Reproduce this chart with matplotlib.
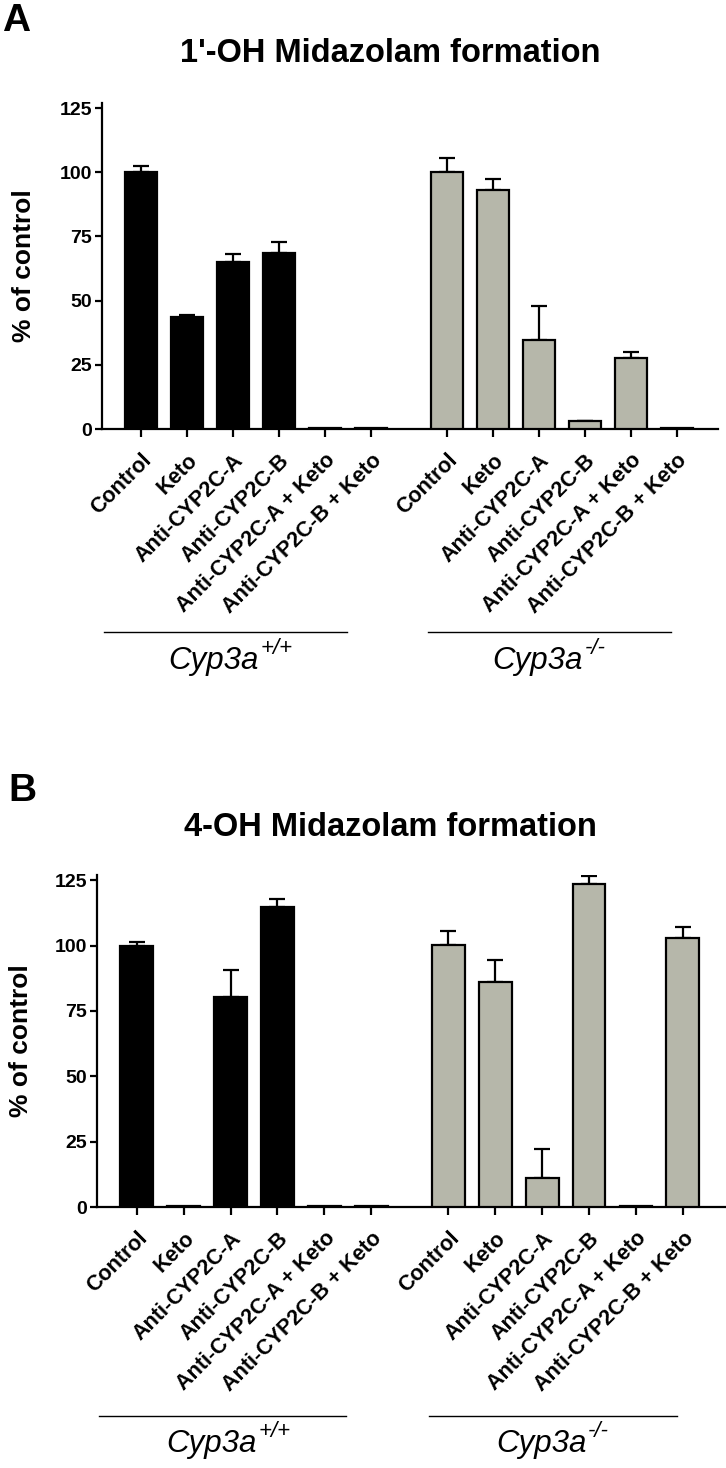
import numpy as np
import matplotlib
matplotlib.use('Agg')
import matplotlib.pyplot as plt
from matplotlib.transforms import blended_transform_factory

plt.rcParams['font.family'] = ['Liberation Sans', 'DejaVu Sans']

# ---------------- data ----------------
treatments = ['Control', 'Keto', 'Anti-CYP2C-A', 'Anti-CYP2C-B',
              'Anti-CYP2C-A + Keto', 'Anti-CYP2C-B + Keto']
genotype_names = ['Cyp3a', 'Cyp3a']
genotype_sups = ['+/+', '-/-']
titles = ["1'-OH Midazolam formation", "4-OH Midazolam formation"]
panel_letters = ['A', 'B']
yticks = [0, 25, 50, 75, 100, 125]

a_wt_mean = [100.0, 43.5, 65.0, 68.7, 0.5, 0.5]
a_wt_err = [2.3, 0.9, 3.1, 4.1, 0.0, 0.0]
a_ko_mean = [100.0, 93.0, 34.5, 3.0, 27.6, 0.5]
a_ko_err = [5.4, 4.3, 13.6, 0.3, 2.5, 0.0]

b_wt_mean = [100.0, 0.5, 80.4, 114.7, 0.5, 0.5]
b_wt_err = [1.3, 0.0, 10.3, 3.3, 0.0, 0.0]
b_ko_mean = [100.3, 86.0, 11.1, 123.7, 0.5, 102.9]
b_ko_err = [5.4, 8.5, 11.2, 3.0, 0.0, 4.1]

panels = [
    (a_wt_mean, a_wt_err, a_ko_mean, a_ko_err),
    (b_wt_mean, b_wt_err, b_ko_mean, b_ko_err),
]

# ---------------- styling / layout ----------------
W, H = 726, 1468
fig = plt.figure(figsize=(W / 100, H / 100), dpi=100)

def px_axes(left, right, y0, ytop):
    return [left / W, (H - y0) / H, (right - left) / W, (y0 - ytop) / H]

ax_rects = [px_axes(102, 718, 429, 103), px_axes(97, 725, 1207, 875)]
title_y = [54, 827]
letter_pos = [(2, 21), (8, 791)]
ylabel_right_px = [36, 33]

wt_color = 'black'
ko_color = '#b6b7aa'
lw = 1.6
pos_wt = np.arange(6)
pos_ko = np.arange(6) + 6.65

for i, (wt_m, wt_e, ko_m, ko_e) in enumerate(panels):
    ax = fig.add_axes(ax_rects[i])
    ax.bar(pos_wt, wt_m, width=0.7, color=wt_color, edgecolor='black', linewidth=lw, zorder=3)
    ax.bar(pos_ko, ko_m, width=0.7, color=ko_color, edgecolor='black', linewidth=lw, zorder=3)
    for pos, m, e in ((pos_wt, wt_m, wt_e), (pos_ko, ko_m, ko_e)):
        m = np.asarray(m); e = np.asarray(e)
        sel = e > 0
        ax.errorbar(pos[sel], m[sel], yerr=[np.zeros(sel.sum()), e[sel]], fmt='none',
                    ecolor='black', elinewidth=lw, capsize=6, capthick=lw, zorder=2)
    ax.set_xlim(-0.85, 12.55)
    ax.set_ylim(0, 127)
    ax.set_yticks(yticks)
    ax.set_yticklabels([str(t) for t in yticks], fontsize=14, fontweight='bold')
    ax.set_xticks(np.concatenate([pos_wt, pos_ko]))
    ax.set_xticklabels(treatments + treatments, rotation=45, ha='right', va='top',
                       rotation_mode='anchor', fontsize=15.5, fontweight='bold')
    ax.tick_params(axis='x', length=6, width=lw, pad=9, direction='out')
    ax.tick_params(axis='y', length=5, width=lw, pad=2, direction='out')
    for s in ['top', 'right']:
        ax.spines[s].set_visible(False)
    for s in ['left', 'bottom']:
        ax.spines[s].set_linewidth(lw)
    ax.set_ylabel('% of control', fontsize=19, fontweight='bold')
    ax_left_px = ax_rects[i][0] * W
    ax_w_px = ax_rects[i][2] * W
    ax.yaxis.set_label_coords((ylabel_right_px[i] - ax_left_px) / ax_w_px, 0.5)

    # group lines and labels
    trans = blended_transform_factory(ax.transData, ax.transAxes)
    ax_h = ax_rects[i][3] * H
    ax_bottom_px = H - ax_rects[i][1] * H
    line_px = [632, 1416][i]
    lab_px = [661, 1444][i]
    ly = (ax_bottom_px - line_px) / ax_h
    ty = (ax_bottom_px - lab_px) / ax_h
    for (x0, x1), g, sup in zip([(-0.8, 4.47), (6.24, 11.52)], genotype_names, genotype_sups):
        ax.plot([x0, x1], [ly, ly], color='black', lw=1.0, transform=trans, clip_on=False)
        t = ax.text((x0 + x1) / 2 - 0.25, ty, g, transform=trans, ha='center', va='center',
                    fontsize=22.5, style='italic')
        ax.annotate(sup, xy=(1.02, 0.58), xycoords=t, ha='left', va='bottom',
                    fontsize=16, style='italic', annotation_clip=False)

    fig.text(390 / W, 1 - title_y[i] / H, titles[i], ha='center', va='center',
             fontsize=23.5, fontweight='bold')
    fig.text(letter_pos[i][0] / W, 1 - letter_pos[i][1] / H, panel_letters[i], ha='left',
             va='center', fontsize=28, fontweight='bold')

fig.savefig('out.png', dpi=100)
